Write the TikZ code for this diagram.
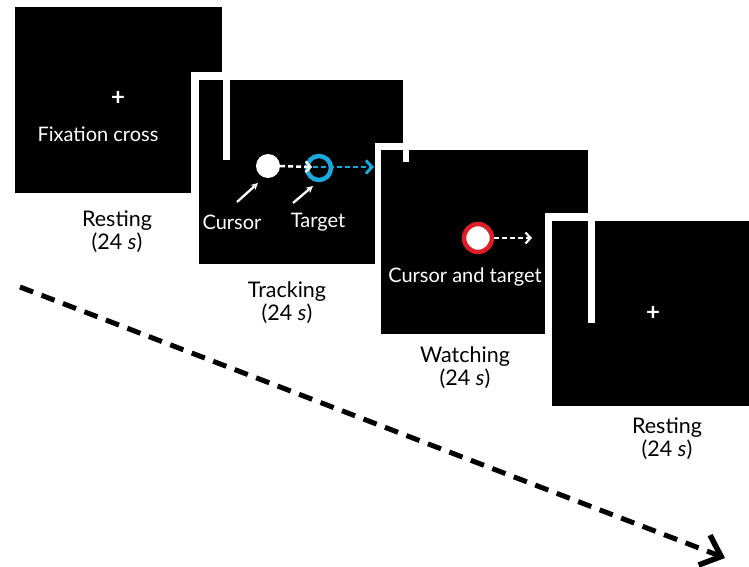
\documentclass[tikz,border=0pt]{standalone}
\usepackage{fontspec}
\setmainfont{Lato}
\usetikzlibrary{arrows.meta}
\definecolor{tblue}{RGB}{28,168,218}
\definecolor{tred}{RGB}{222,30,38}
\begin{document}
\begin{tikzpicture}[x=1pt,y=-1pt,
  screen/.style={fill=black},
  frame/.style={fill=white},
  intext/.style={text=white,font=\fontsize{20}{21}\selectfont,inner sep=0},
  plus/.style={text=white,font=\bfseries\fontsize{24}{24}\selectfont,inner sep=0},
  stagelabel/.style={font=\fontsize{21.5}{23}\selectfont,align=center,inner sep=0},
  wdash/.style={white,line width=2.5pt,dash pattern=on 5pt off 3pt,-{Straight Barb[length=5pt,width=11pt,line width=2.2pt]}},
  bdash/.style={tblue,line width=2.5pt,dash pattern=on 5pt off 3pt,-{Straight Barb[length=6pt,width=13pt,line width=3pt]}},
  ptr/.style={white,line width=2.3pt,-{Stealth[length=7pt,width=7pt]}},
  timeline/.style={black,line width=5pt,dash pattern=on 14pt off 9pt,-{Straight Barb[length=18pt,width=32pt,line width=5.5pt]}}]
\useasboundingbox (0,0) rectangle (749,567);
% screens
\fill[screen] (15,7) rectangle (222,193);
\fill[frame] (191,72) rectangle (403,264);
\fill[screen] (199,80) rectangle (403,264);
\fill[frame] (223,80) rectangle (230,160);
\fill[frame] (375,143) rectangle (588,334);
\fill[screen] (381,150) rectangle (588,334);
\fill[frame] (403,150) rectangle (409,162);
\fill[frame] (545,213) rectangle (749,406);
\fill[screen] (552,221) rectangle (749,406);
\fill[frame] (588,221) rectangle (595,323);
% screen 1
\node[plus] (p1) at (118,98) {+};
\node[intext] (fc) at (98,134) {Fixation cross};
\node[stagelabel] (l1) at (117,232) {Resting\\(24 \textit{s})};
% screen 2
\node[circle,fill=white,minimum size=24pt,inner sep=0] (cur) at (268,166) {};
\node[circle,draw=tblue,line width=4.5pt,minimum size=24pt,inner sep=0] (tgt) at (319,168) {};
\coordinate (w1) at (312,167);
\coordinate (b0) at (313,167);
\coordinate (b1) at (374,167);
\draw[wdash] (cur.east) -- (w1);
\draw[bdash] (b0) -- (b1);
\coordinate (c0) at (237,202);
\coordinate (c1) at (258,183);
\coordinate (t0) at (293,203);
\coordinate (t1) at (313,186);
\draw[ptr] (c0) -- (c1);
\draw[ptr] (t0) -- (t1);
\node[intext] (cl) at (232,222) {Cursor};
\node[intext] (tl) at (318,222) {Target};
\node[stagelabel] (l2) at (287,303) {Tracking\\(24 \textit{s})};
% screen 3
\node[circle,fill=white,draw=tred,line width=4.5pt,minimum size=28pt,inner sep=0] (ct) at (478,238) {};
\coordinate (w2) at (532,238);
\draw[wdash] (ct.east) -- (w2);
\node[intext] (ctl) at (465,277) {Cursor and target};
\node[stagelabel] (l3) at (465,368) {Watching\\(24 \textit{s})};
% screen 4
\node[plus] (p4) at (653,313) {+};
\node[stagelabel] (l4) at (667,439) {Resting\\(24 \textit{s})};
% time arrow
\coordinate (a0) at (20,287);
\coordinate (a1) at (725,558);
\draw[timeline] (a0) -- (a1);
\end{tikzpicture}
\end{document}
